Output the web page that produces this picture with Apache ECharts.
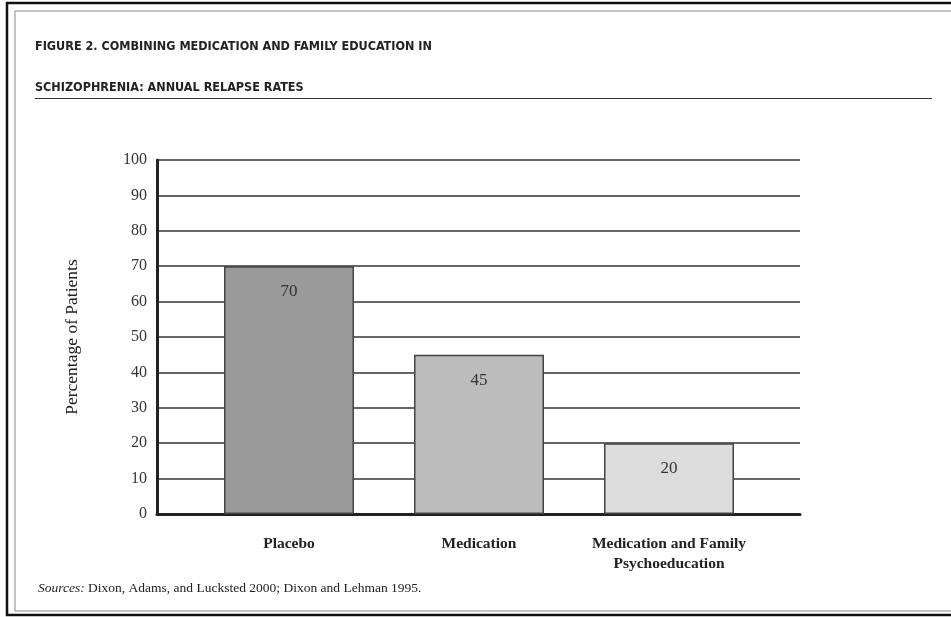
<!DOCTYPE html>
<html>
<head>
<meta charset="utf-8">
<script src="https://cdn.jsdelivr.net/npm/echarts@6/dist/echarts.min.js"></script>
<style>
html,body{margin:0;padding:0;background:#fff;}
#chart{width:951px;height:617px;}
</style>
</head>
<body>
<div id="chart"></div>
<script>
const titleLines = ['FIGURE 2. COMBINING MEDICATION AND FAMILY EDUCATION IN', 'SCHIZOPHRENIA: ANNUAL RELAPSE RATES'];
const categories = ['Placebo', 'Medication', 'Medication and Family\nPsychoeducation'];
const values = [70, 45, 20];
const barColors = ['#9a9a9a', '#bcbcbc', '#dcdcdc'];
const yTicks = {min: 0, max: 100, interval: 10};
const yName = 'Percentage of Patients';
const sourceLabel = 'Sources:';
const sourceText = ' Dixon, Adams, and Lucksted 2000; Dixon and Lehman 1995.';

const serif = '"Liberation Serif", "DejaVu Serif", serif';
const chart = echarts.init(document.getElementById('chart'));
chart.setOption({
  backgroundColor: '#fff',
  animation: false,
  grid: [
    {left: 157, right: 151, top: 160, bottom: 103},
    {left: 194, right: 187, top: 160, bottom: 103}
  ],
  xAxis: [
    {gridIndex: 0, type: 'value', min: 0, max: 1, axisLabel: {show: false}, axisTick: {show: false},
     splitLine: {show: false}, axisLine: {show: true, lineStyle: {color: '#222', width: 3}}},
    {gridIndex: 1, type: 'category', data: categories, axisLine: {show: false}, axisTick: {show: false},
     axisLabel: {interval: 0, hideOverlap: false, margin: 20, fontFamily: serif, fontSize: 15.5, color: '#222', lineHeight: 20, fontWeight: 'bold'}}
  ],
  yAxis: [
    {gridIndex: 0, type: 'value', min: yTicks.min, max: yTicks.max, interval: yTicks.interval,
     name: yName, nameLocation: 'middle', nameGap: 76,
     nameTextStyle: {fontFamily: serif, fontSize: 17.5, color: '#222'},
     axisLine: {show: true, lineStyle: {color: '#222', width: 3}}, axisTick: {show: false},
     axisLabel: {margin: 10, fontFamily: serif, fontSize: 16, color: '#333'},
     splitLine: {show: true, lineStyle: {color: '#333', width: 1.5}}},
    {gridIndex: 1, type: 'value', min: yTicks.min, max: yTicks.max, interval: yTicks.interval, show: false,
     splitLine: {show: false}}
  ],
  series: [{
    type: 'bar', xAxisIndex: 1, yAxisIndex: 1, barWidth: 130,
    data: values.map((v, i) => ({value: v, itemStyle: {color: barColors[i]}})),
    itemStyle: {borderColor: '#444', borderWidth: 1.5},
    label: {show: true, position: 'insideTop', distance: 17, fontFamily: serif, fontSize: 17, color: '#333'}
  }],
  graphic: [
    {type: 'rect', shape: {x: 7, y: 3, width: 960, height: 612}, style: {fill: 'none', stroke: '#111', lineWidth: 2.5}, silent: true},
    {type: 'rect', shape: {x: 15, y: 11, width: 950, height: 600}, style: {fill: 'none', stroke: '#888', lineWidth: 1}, silent: true},
    {type: 'line', shape: {x1: 35, y1: 98.5, x2: 932, y2: 98.5}, style: {stroke: '#333', lineWidth: 1.2}, silent: true},
    {type: 'text', left: 35, top: 40, style: {text: titleLines[0], font: 'bold 12.5px "DejaVu Sans Condensed", "Liberation Sans", sans-serif', fill: '#222'}},
    {type: 'text', left: 35, top: 81, style: {text: titleLines[1], font: 'bold 12.5px "DejaVu Sans Condensed", "Liberation Sans", sans-serif', fill: '#222'}},
    {type: 'text', left: 38, top: 581, style: {
      text: '{i|' + sourceLabel + '}{r|' + sourceText + '}',
      rich: {i: {fontFamily: serif, fontStyle: 'italic', fontSize: 13.5, fill: '#222'}, r: {fontFamily: serif, fontSize: 13.5, fill: '#222'}}
    }}
  ]
});
</script>
</body>
</html>
